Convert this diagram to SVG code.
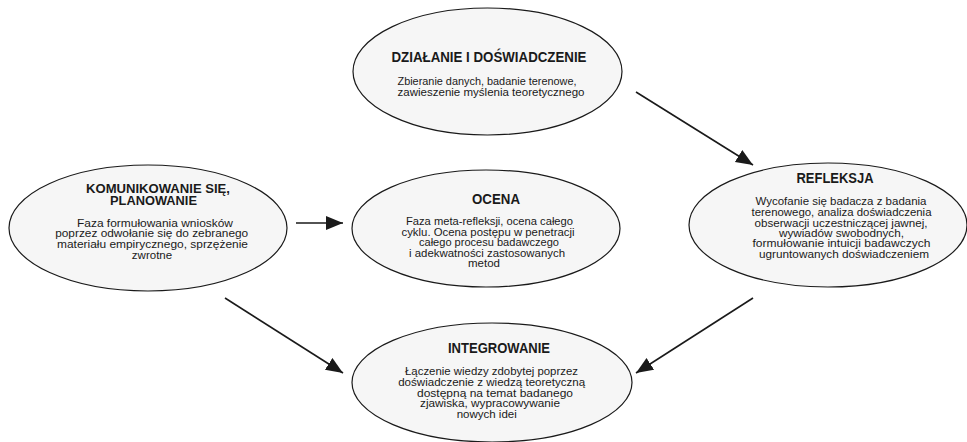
<svg xmlns="http://www.w3.org/2000/svg" width="967" height="442" viewBox="0 0 967 442">
<style>
.n{fill:#f6f6f6;stroke:#1a1a1a;stroke-width:1.2}
.t{font-family:"Liberation Sans",Arial,sans-serif;font-weight:bold;font-size:14px;fill:#1a1a1a;text-anchor:middle}
.t2{font-size:13.5px}
.b{font-family:"Liberation Sans",Arial,sans-serif;font-size:11.5px;fill:#1a1a1a;text-anchor:middle}
.c{stroke:#1a1a1a;stroke-width:1.6;fill:none;marker-end:url(#ah)}
</style>
<defs>
<marker id="ah" markerUnits="userSpaceOnUse" markerWidth="18" markerHeight="15" refX="17" refY="7" orient="auto">
<path d="M0,0 L17,7 L0,14 z" fill="#1a1a1a"/>
</marker>
</defs>
<rect width="967" height="442" fill="#ffffff"/>
<g id="connectors">
<line class="c" x1="636" y1="92" x2="753" y2="165"/>
<line class="c" x1="296" y1="223" x2="343" y2="223"/>
<line class="c" x1="225" y1="298" x2="343" y2="373"/>
<line class="c" x1="753" y1="298" x2="636" y2="373"/>
</g>
<g id="dzialanie">
<ellipse class="n" cx="487.5" cy="71.5" rx="134.5" ry="63.5"/>
<text class="t" x="489" y="62" textLength="195" lengthAdjust="spacingAndGlyphs">DZIAŁANIE I DOŚWIADCZENIE</text>
<text class="b" x="487" y="85" textLength="179" lengthAdjust="spacingAndGlyphs">Zbieranie danych, badanie terenowe,</text>
<text class="b" x="491" y="96" textLength="187" lengthAdjust="spacingAndGlyphs">zawieszenie myślenia teoretycznego</text>
</g>
<g id="refleksja">
<ellipse class="n" cx="828" cy="225" rx="139" ry="62"/>
<text class="t" x="835" y="183" textLength="77" lengthAdjust="spacingAndGlyphs">REFLEKSJA</text>
<text class="b" x="841" y="205" textLength="171" lengthAdjust="spacingAndGlyphs">Wycofanie się badacza z badania</text>
<text class="b" x="841.5" y="215.7" textLength="180" lengthAdjust="spacingAndGlyphs">terenowego, analiza doświadczenia</text>
<text class="b" x="841" y="226.5" textLength="173" lengthAdjust="spacingAndGlyphs">obserwacji uczestniczącej jawnej,</text>
<text class="b" x="841.5" y="236.8" textLength="125" lengthAdjust="spacingAndGlyphs">wywiadów swobodnych,</text>
<text class="b" x="841.5" y="247.3" textLength="178" lengthAdjust="spacingAndGlyphs">formułowanie intuicji badawczych</text>
<text class="b" x="844" y="258" textLength="170" lengthAdjust="spacingAndGlyphs">ugruntowanych doświadczeniem</text>
</g>
<g id="komunikowanie">
<ellipse class="n" cx="148" cy="228" rx="139" ry="63"/>
<text class="t t2" x="158" y="193" textLength="144" lengthAdjust="spacingAndGlyphs">KOMUNIKOWANIE SIĘ,</text>
<text class="t t2" x="153.5" y="205" textLength="87" lengthAdjust="spacingAndGlyphs">PLANOWANIE</text>
<text class="b" x="155" y="226.7" textLength="156" lengthAdjust="spacingAndGlyphs">Faza formułowania wniosków</text>
<text class="b" x="151.7" y="237.3" textLength="193" lengthAdjust="spacingAndGlyphs">poprzez odwołanie się do zebranego</text>
<text class="b" x="152.5" y="248.3" textLength="191" lengthAdjust="spacingAndGlyphs">materiału empirycznego, sprzężenie</text>
<text class="b" x="152" y="259">zwrotne</text>
</g>
<g id="ocena">
<ellipse class="n" cx="486" cy="228.5" rx="134" ry="58.5"/>
<text class="t" x="496" y="204" textLength="48" lengthAdjust="spacingAndGlyphs">OCENA</text>
<text class="b" x="489.5" y="225" textLength="167" lengthAdjust="spacingAndGlyphs">Faza meta-refleksji, ocena całego</text>
<text class="b" x="488" y="235.7" textLength="173" lengthAdjust="spacingAndGlyphs">cyklu. Ocena postępu w penetracji</text>
<text class="b" x="489" y="246" textLength="140" lengthAdjust="spacingAndGlyphs">całego procesu badawczego</text>
<text class="b" x="487" y="256.7" textLength="156" lengthAdjust="spacingAndGlyphs">i adekwatności zastosowanych</text>
<text class="b" x="484" y="267.3">metod</text>
</g>
<g id="integrowanie">
<ellipse class="n" cx="492" cy="382.5" rx="140" ry="59.5"/>
<text class="t" x="499" y="353.3" textLength="102" lengthAdjust="spacingAndGlyphs">INTEGROWANIE</text>
<text class="b" x="491.5" y="375" textLength="173" lengthAdjust="spacingAndGlyphs">Łączenie wiedzy zdobytej poprzez</text>
<text class="b" x="491.7" y="386" textLength="187" lengthAdjust="spacingAndGlyphs">doświadczenie z wiedzą teoretyczną</text>
<text class="b" x="495" y="396.7" textLength="156" lengthAdjust="spacingAndGlyphs">dostępną na temat badanego</text>
<text class="b" x="490" y="407.3" textLength="140" lengthAdjust="spacingAndGlyphs">zjawiska, wypracowywanie</text>
<text class="b" x="486.7" y="418.3">nowych idei</text>
</g>
</svg>
